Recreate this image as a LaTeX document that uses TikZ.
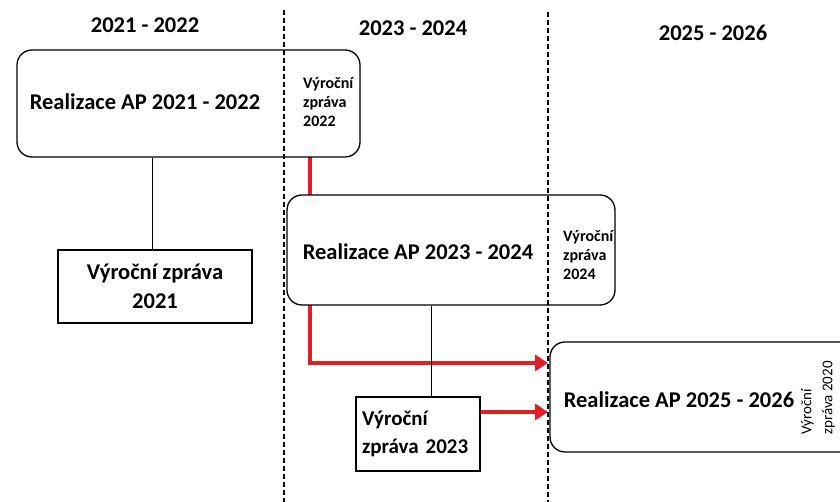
\documentclass[tikz,border=0pt]{standalone}
\usepackage{fontspec}
\setmainfont{Carlito}
\usetikzlibrary{calc,arrows.meta}
\definecolor{zpred}{RGB}{225,30,35}

\begin{document}
\begin{tikzpicture}[x=1pt,y=1pt,
      apbox/.style={draw,line width=1.3pt,fill=white,rounded corners=15pt,inner sep=0pt},
      zpbox/.style={draw,line width=1.3pt,fill=white,inner sep=0pt},
      big/.style={font=\fontsize{22.5}{29}\selectfont\bfseries},
      side/.style={font=\fontsize{16}{19}\selectfont\bfseries,align=left},
      redline/.style={zpred,line width=4pt},
      redarrow/.style={redline,-{Triangle[length=13pt,width=16pt]}},
      period/.style={line width=1.3pt,dash pattern=on 5pt off 3pt}]
      \useasboundingbox (0,0) rectangle (840,502);
      % obdobi
      \node [big] (h21) at (145,477) {2021 - 2022};
      \node [big] (h23) at (413,474) {2023 - 2024};
      \node [big] (h25) at (713,469) {2025 - 2026};
      % cervene spoje
      \draw [redline] (310,345) -- (310,307);
      \draw [redarrow] (310,197) -- (310,139) -- (548,139);
      % realizace
      \node [apbox,minimum width=343,minimum height=107] (ap21) at (188.5,398.5) {};
      \node [apbox,minimum width=328,minimum height=110] (ap23) at (451,252) {};
      \node [apbox,minimum width=340,minimum height=110] (ap25) at (720,105) {};
      \node [big] (t21) at (145,400) {Realizace AP 2021 - 2022};
      \node [big] (t23) at (418,250) {Realizace AP 2023 - 2024};
      \node [big] (t25) at (679,102) {Realizace AP 2025 - 2026};
      \node [side,anchor=west,inner sep=0pt] (vz22) at (303,399.5) {Výroční\\zpráva\\2022};
      \node [side,anchor=west,inner sep=0pt] (vz24) at (563,247) {Výroční\\zpráva\\2024};
      \node [font=\fontsize{15}{21}\selectfont,rotate=90,align=left,inner sep=0pt] (vz20) at (818,104) {Výroční\\zpráva 2020};
      % vyrocni zpravy
      \node [zpbox,minimum width=194,minimum height=73,big,align=center] (vz21) at (155,215.5) {Výroční zpráva\\2021};
      \node [zpbox,minimum width=124,minimum height=74,font=\fontsize{21}{28}\selectfont\bfseries,align=left,text width=112] (vz23) at (418,68) {Výroční\\zpráva 2023};
      \draw [line width=1pt] (ap21.south -| 152,0) -- (vz21.north -| 152,0);
      \draw [line width=1pt] (ap23.south -| 431,0) -- (vz23.north -| 431,0);
      \draw [redarrow] (vz23.east |- 0,90) -- (548,90);
      % hranice obdobi
      \draw [period] (284,492) -- (284,0);
      \draw [period] (548,490) -- (548,0);
\end{tikzpicture}
\end{document}
